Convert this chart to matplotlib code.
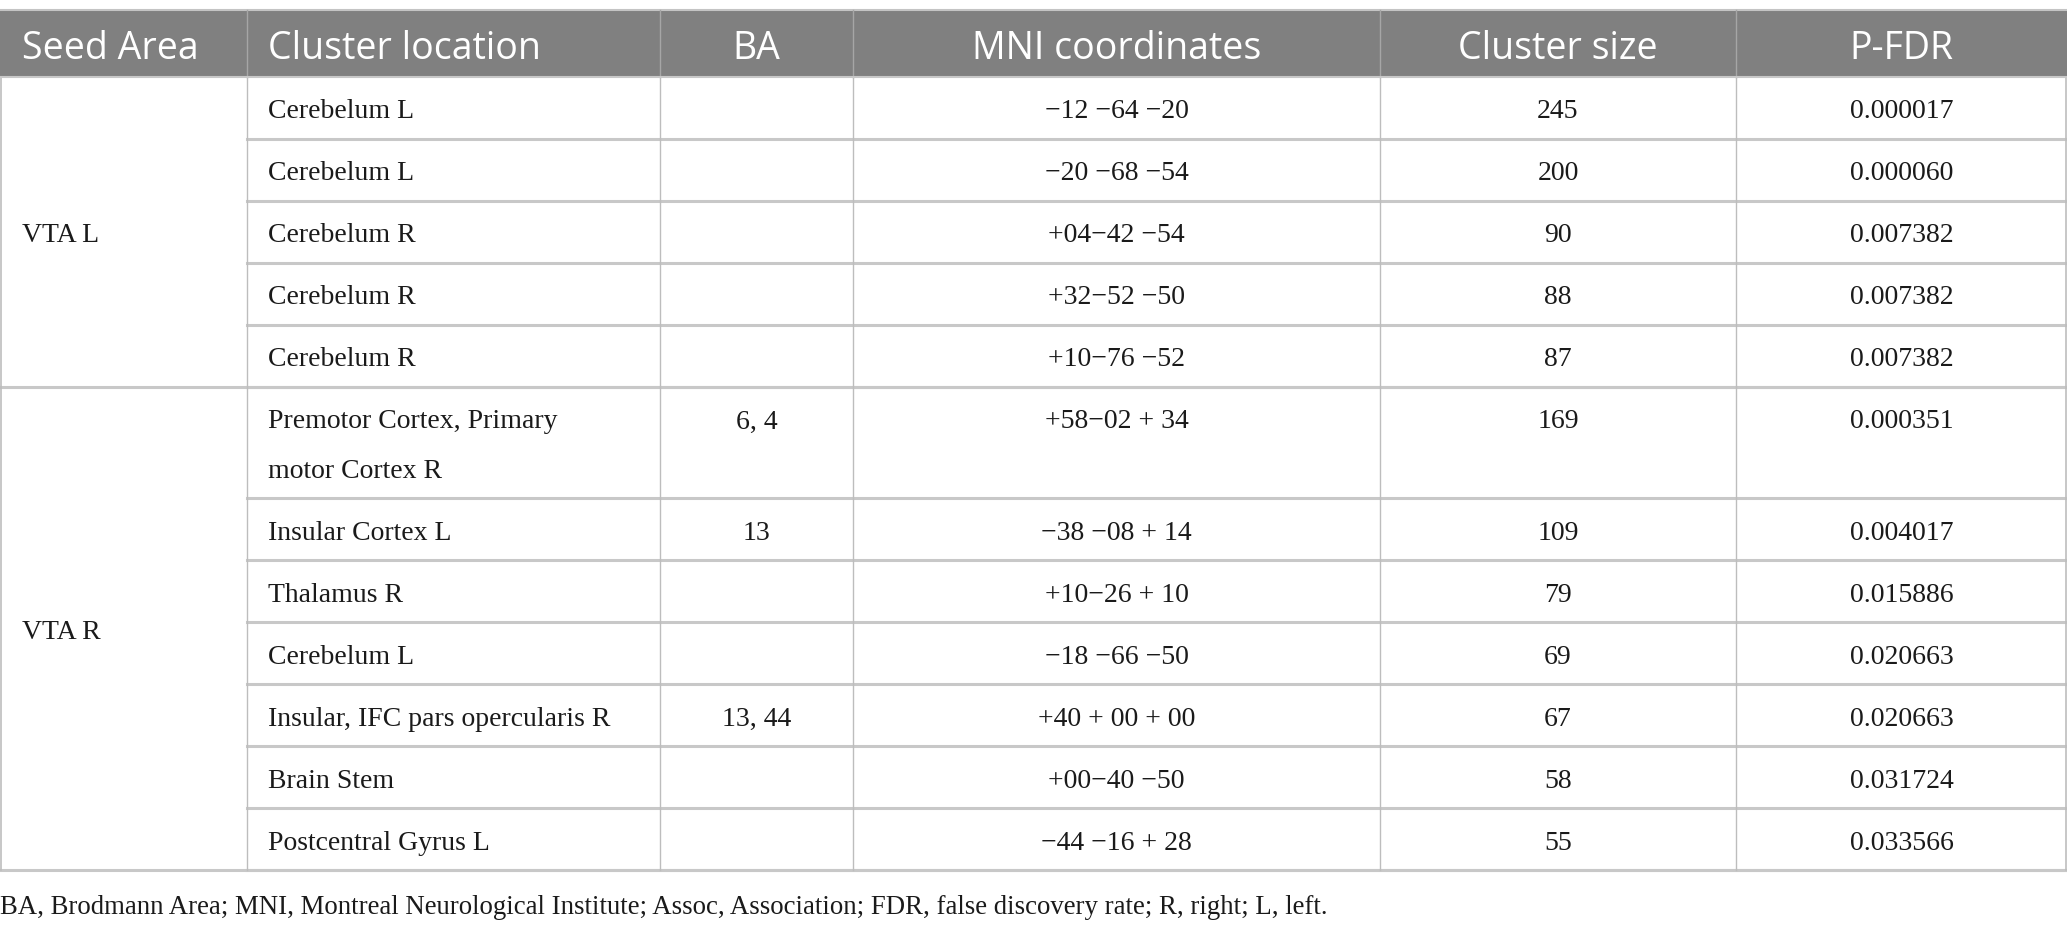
import matplotlib.pyplot as plt
from matplotlib.patches import Rectangle

# table content
columns = ["Seed Area", "Cluster location", "BA", "MNI coordinates", "Cluster size", "P-FDR"]
seed_areas = ["VTA L", "VTA R"]
seed_counts = [5, 7]
locations = [
    "Cerebelum L", "Cerebelum L", "Cerebelum R", "Cerebelum R", "Cerebelum R",
    "Premotor Cortex, Primary\nmotor Cortex R", "Insular Cortex L", "Thalamus R",
    "Cerebelum L", "Insular, IFC pars opercularis R", "Brain Stem", "Postcentral Gyrus L",
]
brodmann = ["", "", "", "", "", "6, 4", "13", "", "", "13, 44", "", ""]
mni = [
    "\u221212 \u221264 \u221220", "\u221220 \u221268 \u221254", "+04\u221242 \u221254",
    "+32\u221252 \u221250", "+10\u221276 \u221252", "+58\u221202 + 34",
    "\u221238 \u221208 + 14", "+10\u221226 + 10", "\u221218 \u221266 \u221250",
    "+40 + 00 + 00", "+00\u221240 \u221250", "\u221244 \u221216 + 28",
]
cluster_size = ["245", "200", "90", "88", "87", "169", "109", "79", "69", "67", "58", "55"]
p_fdr = [
    "0.000017", "0.000060", "0.007382", "0.007382", "0.007382", "0.000351",
    "0.004017", "0.015886", "0.020663", "0.020663", "0.031724", "0.033566",
]
footnote = ("BA, Brodmann Area; MNI, Montreal Neurological Institute; Assoc, Association; "
            "FDR, false discovery rate; R, right; L, left.")

# layout in pixels
W, H = 2067, 926
col_edges = [0, 246.5, 660, 853, 1380, 1736, 2067]
header_top, header_bot = 10, 77
row_h, line_gap = 62, 49
text_dy = 4
serif = ["Liberation Serif", "DejaVu Serif"]
sans = ["Open Sans", "DejaVu Sans"]
body_size = 20
head_size = 27
txt_col = "#1a1a1a"

fig = plt.figure(figsize=(W / 100, H / 100), dpi=100)
ax = fig.add_axes([0, 0, 1, 1])
ax.set_xlim(0, W)
ax.set_ylim(H, 0)
ax.axis("off")

# header
ax.add_patch(Rectangle((0, header_top), W, header_bot - header_top, color="#808080", lw=0))
ax.plot([0, W], [header_top, header_top], color="#c4c4c4", lw=1.5)
for x in col_edges[1:-1]:
    ax.plot([x, x], [header_top, header_bot], color="#a6a6a6", lw=1)
head_base = 59
for i, name in enumerate(columns):
    if i < 2:
        ax.text(col_edges[i] + 22, head_base, name, ha="left", va="baseline",
                color="white", fontsize=head_size, family=sans)
    else:
        ax.text((col_edges[i] + col_edges[i + 1]) / 2, head_base, name, ha="center",
                va="baseline", color="white", fontsize=head_size, family=sans)

# body rows
y = header_bot
row_tops = []
for loc in locations:
    n_lines = loc.count("\n") + 1
    h = row_h + (n_lines - 1) * line_gap
    row_tops.append((y, h))
    y += h
table_bot = y

for k, (top, h) in enumerate(row_tops):
    ty = top + row_h / 2 + text_dy
    lines = locations[k].split("\n")
    for j, line in enumerate(lines):
        ax.text(col_edges[1] + 22, ty + j * line_gap, line, ha="left", va="center",
                color=txt_col, fontsize=body_size, family=serif)
    for c, vals in zip(range(2, 6), [brodmann, mni, cluster_size, p_fdr]):
        ax.text((col_edges[c] + col_edges[c + 1]) / 2, ty, vals[k], ha="center",
                va="center", color=txt_col, fontsize=body_size, family=serif)
    ax.plot([col_edges[1], W], [top + h, top + h], color="#c8c8c8", lw=2.2)

# seed area groups
start = 0
for name, cnt in zip(seed_areas, seed_counts):
    g_top = row_tops[start][0]
    g_bot = row_tops[start + cnt - 1][0] + row_tops[start + cnt - 1][1]
    ax.text(22, (g_top + g_bot) / 2 + text_dy, name, ha="left", va="center",
            color=txt_col, fontsize=body_size, family=serif)
    ax.plot([0, W], [g_bot, g_bot], color="#c8c8c8", lw=2.2)
    start += cnt

# vertical lines
for x in col_edges[1:-1]:
    ax.plot([x, x], [header_bot, table_bot], color="#bdbdbd", lw=1)
ax.plot([0.6, 0.6], [header_bot, table_bot], color="#bdbdbd", lw=1.2)
ax.plot([W - 0.6, W - 0.6], [header_bot, table_bot], color="#bdbdbd", lw=1.2)
ax.plot([0, W], [header_bot, header_bot], color="#c8c8c8", lw=1.5)

ax.text(0, 907, footnote, ha="left", va="center", color=txt_col,
        fontsize=19.3, family=serif)

fig.savefig("out.png", dpi=100)
